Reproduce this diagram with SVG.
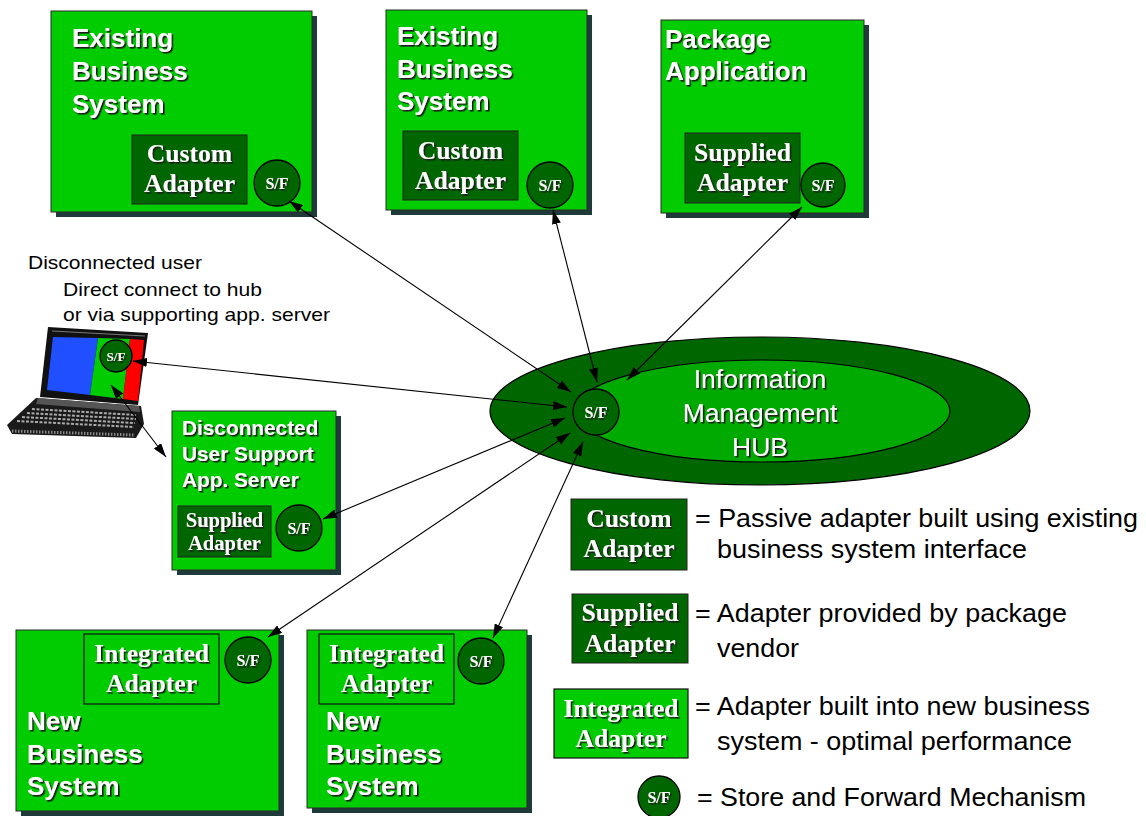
<svg xmlns="http://www.w3.org/2000/svg" width="1146" height="816" viewBox="0 0 1146 816">
  <defs>
    <filter id="ts" x="-10%" y="-10%" width="130%" height="140%">
      <feDropShadow dx="1.6" dy="1.6" stdDeviation="0.3" flood-color="#1a1a1a" flood-opacity="1"/>
    </filter>
    <marker id="ah" viewBox="0 0 14 9" refX="14" refY="4.5" markerWidth="14" markerHeight="9" orient="auto-start-reverse" markerUnits="userSpaceOnUse">
      <path d="M0,0 L14,4.5 L0,9 z" fill="#000"/>
    </marker>
  </defs>
  <style>
    .bg { fill: #ffffff; }
    .shadow { fill: #1e3a3a; }
    .box { fill: #00cc00; stroke: #2a2a2a; stroke-width: 1; }
    .adp { fill: #006600; stroke: #222; stroke-width: 1; }
    .intg { fill: #00cc00; stroke: #111; stroke-width: 1.2; }
    .sf { fill: #006600; stroke: #000; stroke-width: 1.3; }
    .title { font-family: "Liberation Sans", Arial, sans-serif; font-weight: bold; font-size: 26px; fill: #fff; filter: url(#ts); }
    .title2 { font-family: "Liberation Sans", Arial, sans-serif; font-weight: bold; font-size: 20.8px; fill: #fff; filter: url(#ts); }
    .adt { font-family: "Liberation Serif", "Times New Roman", serif; font-weight: bold; font-size: 25.6px; fill: #fff; text-anchor: middle; filter: url(#ts); }
    .adts { font-family: "Liberation Serif", "Times New Roman", serif; font-weight: bold; font-size: 20.5px; fill: #fff; text-anchor: middle; filter: url(#ts); }
    .sft { font-family: "Liberation Serif", "Times New Roman", serif; font-weight: bold; font-size: 16px; fill: #fff; text-anchor: middle; filter: url(#ts); }
    .hubt { font-family: "Liberation Sans", Arial, sans-serif; font-size: 26.5px; fill: #fff; text-anchor: middle; filter: url(#ts); }
    .lbl { font-family: "Liberation Sans", Arial, sans-serif; font-size: 19px; fill: #000; }
    .leg { font-family: "Liberation Sans", Arial, sans-serif; font-size: 26px; fill: #000; }
    .conn { stroke: #000; stroke-width: 1.1; fill: none; marker-start: url(#ah); marker-end: url(#ah); }
  </style>

  <rect class="bg" x="0" y="0" width="1146" height="816"/>

  <!-- Hub -->
  <g id="hub">
    <ellipse cx="760" cy="411" rx="270" ry="74" fill="#006600" stroke="#000" stroke-width="1.2"/>
    <ellipse cx="762" cy="411" rx="188" ry="51" fill="#00aa00" stroke="#000" stroke-width="1.2"/>
    <circle class="sf" cx="596" cy="412" r="23"/>
    <text class="sft" x="596" y="418">S/F</text>
    <text class="hubt" x="760" y="388">Information</text>
    <text class="hubt" x="760" y="422">Management</text>
    <text class="hubt" x="760" y="456">HUB</text>
  </g>

  <!-- Existing Business System (left) -->
  <g id="existing1">
    <rect class="shadow" x="56" y="16" width="261" height="201"/>
    <rect class="box" x="51" y="11" width="261" height="201"/>
    <text class="title" x="72" y="47">Existing</text>
    <text class="title" x="72" y="80">Business</text>
    <text class="title" x="72" y="113">System</text>
    <rect class="adp" x="132" y="135" width="115" height="69"/>
    <text class="adt" x="189.5" y="162">Custom</text>
    <text class="adt" x="189.5" y="192">Adapter</text>
    <circle class="sf" cx="277" cy="183" r="23"/>
    <text class="sft" x="277" y="189">S/F</text>
  </g>

  <!-- Existing Business System (middle) -->
  <g id="existing2">
    <rect class="shadow" x="391" y="15" width="201" height="200"/>
    <rect class="box" x="386" y="10" width="201" height="200"/>
    <text class="title" x="397" y="45">Existing</text>
    <text class="title" x="397" y="78">Business</text>
    <text class="title" x="397" y="110">System</text>
    <rect class="adp" x="403" y="131" width="115" height="69"/>
    <text class="adt" x="460.5" y="159">Custom</text>
    <text class="adt" x="460.5" y="189">Adapter</text>
    <circle class="sf" cx="550" cy="185" r="23"/>
    <text class="sft" x="550" y="191">S/F</text>
  </g>

  <!-- Package Application -->
  <g id="package">
    <rect class="shadow" x="666" y="25" width="203" height="193"/>
    <rect class="box" x="661" y="20" width="203" height="193"/>
    <text class="title" x="665" y="48">Package</text>
    <text class="title" x="665" y="80">Application</text>
    <rect class="adp" x="685" y="133" width="115" height="70"/>
    <text class="adt" x="742.5" y="161">Supplied</text>
    <text class="adt" x="742.5" y="191">Adapter</text>
    <circle class="sf" cx="823" cy="185" r="22"/>
    <text class="sft" x="823" y="191">S/F</text>
  </g>

  <!-- Disconnected user notes -->
  <g id="notes">
    <text class="lbl" x="28" y="269" textLength="174" lengthAdjust="spacingAndGlyphs">Disconnected user</text>
    <text class="lbl" x="63" y="296" textLength="199" lengthAdjust="spacingAndGlyphs">Direct connect to hub</text>
    <text class="lbl" x="63" y="321" textLength="267" lengthAdjust="spacingAndGlyphs">or via supporting app. server</text>
  </g>

  <!-- Laptop -->
  <g id="laptop">
    <polygon points="36,398 141,406 144,424 136,438 12,434 7,425" fill="#1a1a1a"/>
    <polygon points="38,398 139,406 140,412 36,404" fill="#555"/>
    <g stroke="#aaa" stroke-width="2" stroke-dasharray="3,1.5">
      <line x1="32" y1="409" x2="136" y2="415"/>
      <line x1="27" y1="413" x2="136" y2="419"/>
      <line x1="22" y1="417" x2="135" y2="423"/>
      <line x1="17" y1="421" x2="134" y2="427"/>
    </g>
    <line x1="12" y1="431" x2="134" y2="435" stroke="#888" stroke-width="3" stroke-dasharray="1.5,1.5"/>
    <polygon points="48,327 148,333 138,405 40,397" fill="#111"/>
    <line x1="52" y1="331" x2="145" y2="336" stroke="#777" stroke-width="1"/>
    <polygon points="53,337 98,338 90,395 47,390" fill="#1f4fff"/>
    <polygon points="98,338 130,339 123,399 90,395" fill="#00cc00"/>
    <polygon points="130,339 144,340 138,401 123,399" fill="#ff0000"/>
    <circle class="sf" cx="116" cy="356" r="16"/>
    <text class="sft" x="116" y="361" style="font-size:13px">S/F</text>
  </g>

  <!-- Disconnected User Support App. Server -->
  <g id="appserver">
    <rect class="shadow" x="177" y="416" width="164" height="159"/>
    <rect class="box" x="172" y="411" width="164" height="159"/>
    <text class="title2" x="182" y="435">Disconnected</text>
    <text class="title2" x="182" y="461">User Support</text>
    <text class="title2" x="182" y="487">App. Server</text>
    <rect class="adp" x="178" y="506" width="93" height="51"/>
    <text class="adts" x="224.5" y="527">Supplied</text>
    <text class="adts" x="224.5" y="550">Adapter</text>
    <circle class="sf" cx="299" cy="528" r="23"/>
    <text class="sft" x="299" y="534">S/F</text>
  </g>

  <!-- New Business System (left) -->
  <g id="newbiz1">
    <rect class="shadow" x="21" y="635" width="263" height="181"/>
    <rect class="box" x="16" y="630" width="263" height="181"/>
    <rect class="intg" x="84" y="634" width="135" height="70"/>
    <text class="adt" x="151.5" y="662">Integrated</text>
    <text class="adt" x="151.5" y="692">Adapter</text>
    <circle class="sf" cx="248" cy="660" r="23"/>
    <text class="sft" x="248" y="666">S/F</text>
    <text class="title" x="27" y="730">New</text>
    <text class="title" x="27" y="763">Business</text>
    <text class="title" x="27" y="795">System</text>
  </g>

  <!-- New Business System (middle) -->
  <g id="newbiz2">
    <rect class="shadow" x="312" y="635" width="220" height="178"/>
    <rect class="box" x="307" y="630" width="220" height="178"/>
    <rect class="intg" x="319" y="634" width="135" height="70"/>
    <text class="adt" x="386.5" y="662">Integrated</text>
    <text class="adt" x="386.5" y="692">Adapter</text>
    <circle class="sf" cx="481" cy="661" r="23"/>
    <text class="sft" x="481" y="667">S/F</text>
    <text class="title" x="326" y="730">New</text>
    <text class="title" x="326" y="763">Business</text>
    <text class="title" x="326" y="795">System</text>
  </g>

  <!-- Connectors -->
  <g id="connectors">
    <line class="conn" x1="289" y1="201" x2="571" y2="392"/>
    <line class="conn" x1="553" y1="210" x2="597" y2="382"/>
    <line class="conn" x1="802" y1="207" x2="627" y2="380"/>
    <line class="conn" x1="133" y1="361" x2="567" y2="407"/>
    <line class="conn" x1="111" y1="385" x2="166" y2="457"/>
    <line class="conn" x1="323" y1="519" x2="565" y2="418"/>
    <line class="conn" x1="268" y1="637" x2="570" y2="433"/>
    <line class="conn" x1="493" y1="638" x2="583" y2="442"/>
  </g>

  <!-- Legend -->
  <g id="legend-custom">
    <rect class="adp" x="571" y="499" width="116" height="71"/>
    <text class="adt" x="629" y="527">Custom</text>
    <text class="adt" x="629" y="557">Adapter</text>
    <text class="leg" x="695" y="527" textLength="443" lengthAdjust="spacingAndGlyphs">= Passive adapter built using existing</text>
    <text class="leg" x="717" y="558" textLength="310" lengthAdjust="spacingAndGlyphs">business system interface</text>
  </g>
  <g id="legend-supplied">
    <rect class="adp" x="572" y="594" width="116" height="69"/>
    <text class="adt" x="630" y="621">Supplied</text>
    <text class="adt" x="630" y="652">Adapter</text>
    <text class="leg" x="695" y="622" textLength="372" lengthAdjust="spacingAndGlyphs">= Adapter provided by package</text>
    <text class="leg" x="717" y="657" textLength="82" lengthAdjust="spacingAndGlyphs">vendor</text>
  </g>
  <g id="legend-integrated">
    <rect class="intg" x="554" y="689" width="134" height="69"/>
    <text class="adt" x="621" y="717">Integrated</text>
    <text class="adt" x="621" y="747">Adapter</text>
    <text class="leg" x="695" y="715" textLength="395" lengthAdjust="spacingAndGlyphs">= Adapter built into new business</text>
    <text class="leg" x="717" y="750" textLength="355" lengthAdjust="spacingAndGlyphs">system - optimal performance</text>
  </g>
  <g id="legend-sf">
    <circle class="sf" cx="659" cy="797" r="21"/>
    <text class="sft" x="659" y="803">S/F</text>
    <text class="leg" x="697" y="806" textLength="389" lengthAdjust="spacingAndGlyphs">= Store and Forward Mechanism</text>
  </g>
</svg>
